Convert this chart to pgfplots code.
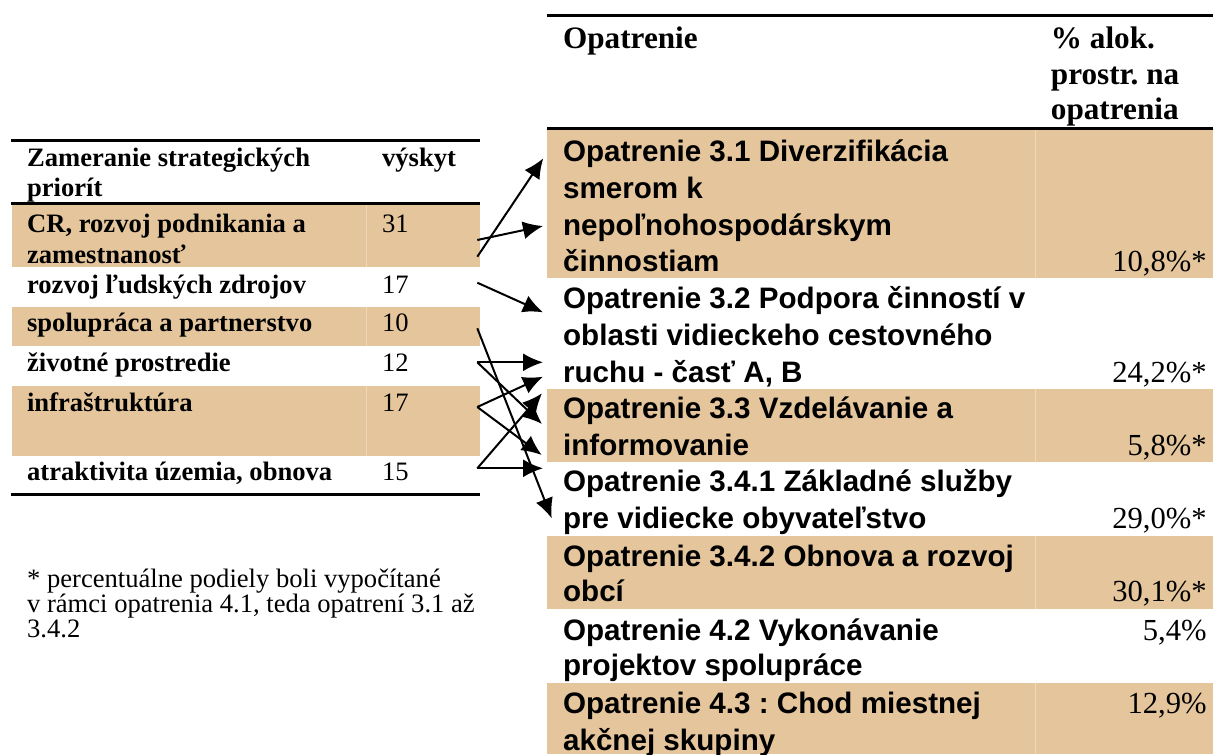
\documentclass[border=0pt]{standalone}
\usepackage{pgfplots}
\pgfplotsset{compat=1.18}
\usetikzlibrary{arrows.meta}
\usepackage{fontspec}
\setmainfont{Liberation Serif}
\newfontfamily\arialfont{Liberation Sans}
\definecolor{tan}{RGB}{229,198,156}
\definecolor{tanlight}{RGB}{238,216,184}
\frenchspacing
\newcommand\lf{\fontsize{13.3pt}{15pt}\selectfont}
\newcommand\hf{\fontsize{15.6pt}{18pt}\selectfont\bfseries}
\newcommand\af{\arialfont\fontsize{14.8pt}{18pt}\selectfont\bfseries}
\newcommand\nf{\fontsize{15.3pt}{18pt}\selectfont}
\newcommand\myTL[3]{\node[anchor=base west,inner sep=0pt,font=\lf\bfseries] at (axis cs:#1,#2) {#3};}
\newcommand\myTN[3]{\node[anchor=base west,inner sep=0pt,font=\lf] at (axis cs:#1,#2) {#3};}
\newcommand\myTA[2]{\node[anchor=base west,inner sep=0pt,font=\af] at (axis cs:562.7,#1) {#2};}
\newcommand\myTH[3]{\node[anchor=base west,inner sep=0pt,font=\hf] at (axis cs:#1,#2) {#3};}
\newcommand\myTR[2]{\node[anchor=base east,inner sep=0pt,font=\nf] at (axis cs:1207,#1) {#2};}
\begin{document}
\begin{tikzpicture}
\begin{axis}[x=0.5pt,y=0.5pt,y dir=reverse,xmin=0,xmax=1213,ymin=0,ymax=754,hide axis,clip=false]
% background
\addplot[fill=white,draw=none] coordinates {(0,0) (1213,0) (1213,754) (0,754)};
% left shaded rows
\addplot[fill=tan,draw=none] coordinates {(11.7,204.5) (480,204.5) (480,266.7) (11.7,266.7)};
\addplot[fill=tan,draw=none] coordinates {(11.7,306.7) (480,306.7) (480,346) (11.7,346)};
\addplot[fill=tan,draw=none] coordinates {(11.7,386) (480,386) (480,455.7) (11.7,455.7)};
\addplot[tanlight,line width=0.5pt] coordinates {(366.7,204.5) (366.7,266.7)};
\addplot[tanlight,line width=0.5pt] coordinates {(366.7,306.7) (366.7,346)};
\addplot[tanlight,line width=0.5pt] coordinates {(366.7,386) (366.7,455.7)};
% right shaded rows
\addplot[fill=tan,draw=none] coordinates {(547.4,129.5) (1213,129.5) (1213,277.7) (547.4,277.7)};
\addplot[fill=tan,draw=none] coordinates {(547.4,389) (1213,389) (1213,461.7) (547.4,461.7)};
\addplot[fill=tan,draw=none] coordinates {(547.4,535.7) (1213,535.7) (1213,609.3) (547.4,609.3)};
\addplot[fill=tan,draw=none] coordinates {(547.4,683.3) (1213,683.3) (1213,754) (547.4,754)};
\addplot[tanlight,line width=0.5pt] coordinates {(1035,129.5) (1035,277.7)};
\addplot[tanlight,line width=0.5pt] coordinates {(1035,389) (1035,461.7)};
\addplot[tanlight,line width=0.5pt] coordinates {(1035,535.7) (1035,609.3)};
\addplot[tanlight,line width=0.5pt] coordinates {(1035,683.3) (1035,754)};
% rules
\addplot[black,line width=1.4pt] coordinates {(11,140.7) (480,140.7)};
\addplot[black,line width=1.4pt] coordinates {(11,203.3) (480,203.3)};
\addplot[black,line width=1.5pt] coordinates {(11,494.3) (480,494.3)};
\addplot[black,line width=1.5pt] coordinates {(547.4,16) (1213,16)};
\addplot[black,line width=1.5pt] coordinates {(547.4,128.3) (1213,128.3)};
% left table text
\myTL{26.7}{166.7}{Zameranie strategických}
\myTL{26.7}{197}{priorít}
\myTL{381.7}{166.7}{výskyt}
\myTL{26.7}{232}{CR, rozvoj podnikania a}
\myTL{26.7}{263}{zamestnanosť}
\myTN{381.7}{232}{31}
\myTL{26.7}{293.3}{rozvoj ľudských zdrojov}
\myTN{381.7}{293.3}{17}
\myTL{26.7}{331.7}{spolupráca a partnerstvo}
\myTN{381.7}{331.7}{10}
\myTL{26.7}{371.7}{životné prostredie}
\myTN{381.7}{371.7}{12}
\myTL{26.7}{411}{infraštruktúra}
\myTN{381.7}{411}{17}
\myTL{26.7}{480}{atraktivita územia, obnova}
\myTN{381.7}{480}{15}
% footnote
\myTN{26.7}{587}{* percentuálne podiely boli vypočítané}
\myTN{26.7}{612}{v rámci opatrenia 4.1, teda opatrení 3.1 až}
\myTN{26.7}{637}{3.4.2}
% right table header
\myTH{562.7}{48.3}{Opatrenie}
\myTH{1050.5}{48.3}{\% alok.}
\myTH{1050.5}{85}{prostr. na}
\myTH{1050.5}{120}{opatrenia}
% right table rows
\myTA{161.7}{Opatrenie 3.1 Diverzifikácia}
\myTA{198.3}{smerom k}
\myTA{235}{nepoľnohospodárskym}
\myTA{271.7}{činnostiam}
\myTR{271.7}{10,8\%*}
\myTA{308.3}{Opatrenie 3.2 Podpora činností v}
\myTA{345.5}{oblasti vidieckeho cestovného}
\myTA{382}{ruchu - časť A, B}
\myTR{382}{24,2\%*}
\myTA{418.3}{Opatrenie 3.3 Vzdelávanie a}
\myTA{455}{informovanie}
\myTR{455}{5,8\%*}
\myTA{491.7}{Opatrenie 3.4.1 Základné služby}
\myTA{528.3}{pre vidiecke obyvateľstvo}
\myTR{528.3}{29,0\%*}
\myTA{566.7}{Opatrenie 3.4.2 Obnova a rozvoj}
\myTA{601.7}{obcí}
\myTR{601.7}{30,1\%*}
\myTA{640}{Opatrenie 4.2 Vykonávanie}
\myTA{675}{projektov spolupráce}
\myTR{640}{5,4\%}
\myTA{713.3}{Opatrenie 4.3 : Chod miestnej}
\myTA{750}{akčnej skupiny}
\myTR{713.3}{12,9\%}
% arrows
\pgfplotsset{arr/.style={black,line width=1pt,-{Latex[length=10pt,width=9pt]}}}
\addplot[arr] coordinates {(477.3,256.7) (543.3,158.3)};
\addplot[arr] coordinates {(477.3,240) (543,226)};
\addplot[arr] coordinates {(477.3,282.7) (543,312.3)};
\addplot[arr] coordinates {(477.3,328.3) (551.7,518.3)};
\addplot[arr] coordinates {(477.3,362.3) (543,362.3)};
\addplot[arr] coordinates {(477.3,362.3) (542,424)};
\addplot[arr] coordinates {(477.3,407) (543,376.7)};
\addplot[arr] coordinates {(477.3,407) (541.7,455)};
\addplot[arr] coordinates {(477.3,468.3) (543,468.3)};
\addplot[arr] coordinates {(477.3,468.3) (542,393.3)};
\end{axis}
\pgfresetboundingbox
\useasboundingbox (current axis.south west) rectangle (current axis.north east);
\end{tikzpicture}
\end{document}
